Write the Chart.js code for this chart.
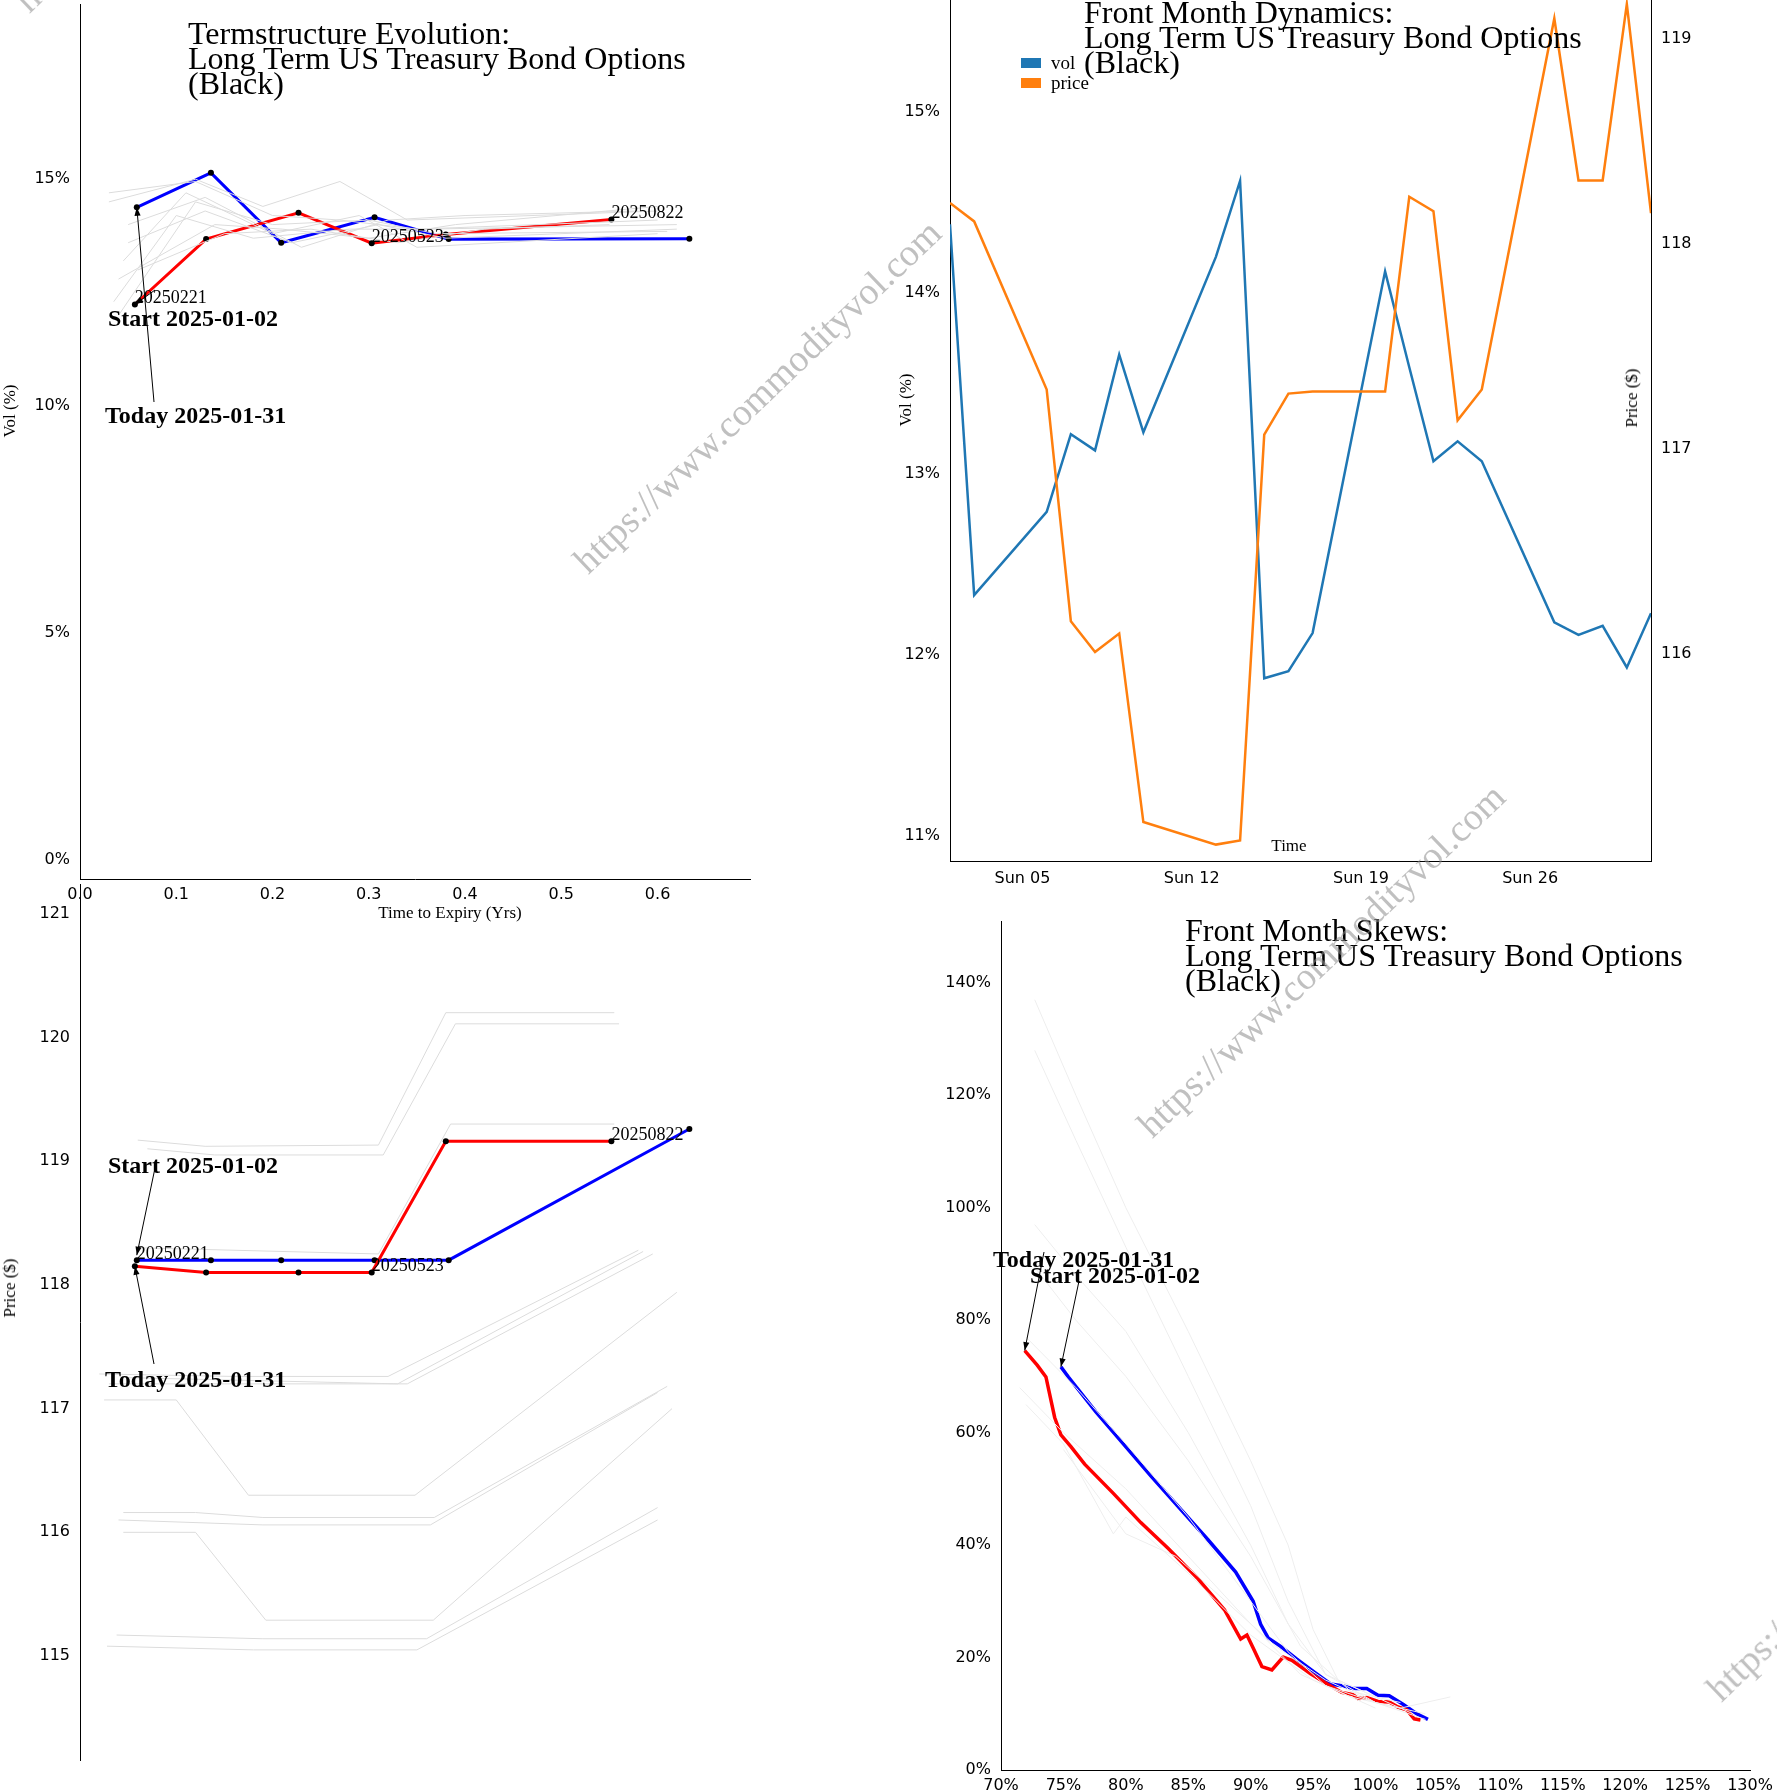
<!DOCTYPE html>
<html>
<head>
<meta charset="utf-8">
<script src="https://cdn.jsdelivr.net/npm/chart.js@4"></script>
<style>
  body { margin: 0; background: #fff; width: 1777px; height: 1792px; overflow: hidden; position: relative; }
  canvas { position: absolute; }
  .t { position: absolute; font-family: 'Liberation Serif', serif; color: #000; white-space: nowrap; }
  .title { font-size: 32px; line-height: 25px; }
  .ann { font-size: 24px; font-weight: bold; }
  .ax { font-size: 17px; }
  .rot { transform: translate(-50%, -50%) rotate(-90deg); }
  .wm { position: absolute; font-family: 'Liberation Serif', serif; font-size: 38px; color: rgba(140,140,140,0.55);
        white-space: nowrap; transform: translate(-50%, -50%) rotate(-43.7deg); }
  .sw { position: absolute; width: 20px; height: 10px; }
</style>
</head>
<body>
<canvas id="c1" style="left:0;top:0"></canvas>
<canvas id="c3" style="left:0;top:880px"></canvas>
<canvas id="c2" style="left:880px;top:0"></canvas>
<canvas id="c4" style="left:900px;top:880px"></canvas>

<div class="t title" style="left:188px;top:21px">Termstructure Evolution:<br>Long Term US Treasury Bond Options<br>(Black)</div>
<div class="t title" style="left:1084px;top:0px">Front Month Dynamics:<br>Long Term US Treasury Bond Options<br>(Black)</div>
<div class="t title" style="left:1185px;top:918px">Front Month Skews:<br>Long Term US Treasury Bond Options<br>(Black)</div>

<div class="sw" style="left:1021px;top:58px;background:#1f77b4"></div>
<div class="t ax" style="left:1051px;top:52px;font-size:19px">vol</div>
<div class="sw" style="left:1021px;top:78px;background:#ff7f0e"></div>
<div class="t ax" style="left:1051px;top:72px;font-size:19px">price</div>

<div class="t ann" style="left:108px;top:305px">Start 2025-01-02</div>
<div class="t ann" style="left:105px;top:402px">Today 2025-01-31</div>
<div class="t ann" style="left:108px;top:1152px">Start 2025-01-02</div>
<div class="t ann" style="left:105px;top:1366px">Today 2025-01-31</div>
<div class="t ann" style="left:993px;top:1246px">Today 2025-01-31</div>
<div class="t ann" style="left:1030px;top:1262px">Start 2025-01-02</div>

<div class="t ax rot" style="left:10px;top:411px">Vol (%)</div>
<div class="t ax" style="left:450px;top:913px;transform:translate(-50%,-50%)">Time to Expiry (Yrs)</div>
<div class="t ax rot" style="left:906px;top:400px">Vol (%)</div>
<div class="t ax rot" style="left:1632px;top:398px">Price ($)</div>
<div class="t ax" style="left:1289px;top:846px;transform:translate(-50%,-50%)">Time</div>
<div class="t ax rot" style="left:10px;top:1288px">Price ($)</div>

<div class="wm" style="left:757px;top:396px">https://www.commodityvol.com</div>
<div class="wm" style="left:1321px;top:960px">https://www.commodityvol.com</div>
<div class="wm" style="left:1890px;top:1524px">https://www.commodityvol.com</div>
<div class="wm" style="left:198px;top:-165px">https://www.commodityvol.com</div>

<script>
// term structure: [time to expiry (yrs), value]
const termTodayVol = [[0.059,14.38],[0.136,15.14],[0.209,13.60],[0.306,14.16],[0.383,13.68],[0.633,13.69]];
const termStartVol = [[0.057,12.24],[0.131,13.68],[0.227,14.26],[0.303,13.59],[0.380,13.78],[0.552,14.11]];
const termTodayPrice = [[0.059,118.20],[0.136,118.20],[0.209,118.20],[0.306,118.20],[0.383,118.20],[0.633,119.26]];
const termStartPrice = [[0.057,118.15],[0.131,118.10],[0.227,118.10],[0.303,118.10],[0.380,119.16],[0.552,119.16]];
const expiryLabels = ['20250221', null, null, '20250523', null, '20250822'];
const termGreyVol = [
  [[0.03,14.7],[0.12,14.95],[0.2,14.2],[0.27,14.1],[0.35,13.9],[0.6,14.1]],
  [[0.03,14.5],[0.12,15.0],[0.19,14.4],[0.27,14.95],[0.34,14.1],[0.6,14.3]],
  [[0.04,12.0],[0.12,14.5],[0.2,14.0],[0.3,14.1],[0.37,13.8],[0.61,13.85]],
  [[0.035,12.3],[0.1,14.2],[0.18,13.7],[0.28,13.9],[0.36,13.9],[0.62,14.0]],
  [[0.045,13.2],[0.11,14.7],[0.2,13.8],[0.29,14.2],[0.35,13.5],[0.6,13.8]],
  [[0.05,13.6],[0.13,14.3],[0.22,13.6],[0.31,14.0],[0.38,13.7],[0.62,13.9]],
  [[0.04,12.8],[0.14,14.0],[0.21,13.9],[0.3,13.7],[0.39,14.0],[0.6,14.4]],
  [[0.05,14.0],[0.13,14.6],[0.23,13.5],[0.32,14.1],[0.4,14.2],[0.58,14.3]],
  [[0.06,13.0],[0.15,13.8],[0.24,13.9],[0.33,13.6],[0.42,13.9],[0.55,14.0]]
];
const termGreyPrice = [
  [[0.06,119.17],[0.13,119.12],[0.31,119.13],[0.38,120.20],[0.555,120.20]],
  [[0.07,119.10],[0.14,119.05],[0.315,119.05],[0.39,120.11],[0.56,120.11]],
  [[0.06,118.30],[0.31,118.25],[0.385,119.30],[0.555,119.30]],
  [[0.02,117.28],[0.16,117.26],[0.32,117.26],[0.58,118.28]],
  [[0.05,117.25],[0.33,117.20],[0.585,118.27]],
  [[0.03,117.20],[0.15,117.20],[0.34,117.20],[0.595,118.25]],
  [[0.025,117.07],[0.10,117.07],[0.175,116.30],[0.348,116.30],[0.62,117.94]],
  [[0.045,116.16],[0.12,116.16],[0.19,116.12],[0.368,116.12],[0.61,117.18]],
  [[0.04,116.10],[0.19,116.06],[0.364,116.06],[0.60,117.13]],
  [[0.045,116.00],[0.12,116.00],[0.193,115.29],[0.367,115.29],[0.615,117.00]],
  [[0.038,115.17],[0.19,115.14],[0.36,115.14],[0.60,116.20]],
  [[0.028,115.08],[0.18,115.05],[0.35,115.05],[0.60,116.10]]
];

// front month dynamics: day of January 2025
const days = [2,3,6,7,8,9,10,13,14,15,16,17,20,21,22,23,24,27,28,29,30,31];
const volSeries = [14.38,12.33,12.79,13.22,13.13,13.66,13.23,14.20,14.62,11.87,11.91,12.12,14.12,13.59,13.07,13.18,13.07,12.18,12.11,12.16,11.93,12.23];
const priceSeries = [118.20,118.11,117.29,116.16,116.01,116.10,115.18,115.07,115.09,117.07,117.27,117.28,117.28,118.23,118.16,117.14,117.29,119.10,118.31,118.31,119.17,118.15];
const dayTicks = [5,12,19,26];
const dayTickLabels = ['Sun 05','Sun 12','Sun 19','Sun 26'];

// skews: [moneyness %, vol %]
const skewToday = [[71.9,74.6],[72.9,72.0],[73.6,69.9],[74.3,62.7],[74.8,59.6],[75.6,57.5],[76.7,54.4],[79.0,49.2],[81.2,44.0],[83.4,39.4],[85.7,34.2],[87.9,28.5],[89.2,23.3],[89.7,24.0],[90.2,21.7],[90.9,18.4],[91.7,17.8],[92.6,20.1],[93.3,19.5],[94.8,17.1],[96.2,15.2],[97.3,13.8],[98.2,13.4],[98.6,12.7],[99.3,12.9],[100.2,12.2],[101.1,12.1],[101.8,11.2],[102.5,10.7],[103.1,9.1],[103.6,8.9]];
const skewStart = [[74.8,71.7],[75.4,69.9],[77.6,63.7],[79.8,58.0],[82.0,52.3],[84.3,46.6],[86.6,40.9],[88.8,35.2],[90.2,30.0],[90.8,25.9],[91.4,23.5],[92.4,22.0],[93.7,19.7],[95.1,17.4],[96.4,15.3],[97.3,15.0],[98.2,14.5],[99.3,14.5],[100.2,13.3],[101.1,13.2],[102.2,11.7],[103.3,10.0],[104.2,9.0]];
const skewGrey = [
  [[72.7,137],[76,120],[80,100],[85,78],[90,55],[93,40],[95,25],[97,16],[100,13]],
  [[72.7,128],[76,112],[80,93],[85,70],[90,47],[93,30],[96,17],[100,12]],
  [[72.7,97],[76,88],[80,78],[85,60],[90,40],[93,26],[96,17],[100,13],[103,10]],
  [[72,77],[76,68],[80,58],[85,45],[90,30],[93,21],[96,15],[100,12],[104,9]],
  [[71.5,68],[75,60],[80,50],[85,38],[90,26],[94,17],[98,13],[102,11],[106,13]],
  [[72,65],[75,58],[79,42],[80,45],[85,35],[90,24],[95,16],[100,11]],
  [[75,57],[78,48],[80,42],[84,38],[88,30],[92,22],[96,16],[100,12],[104,10]],
  [[72.5,90],[76,80],[80,70],[85,55],[90,38],[94,22],[98,14],[102,12]]
];

const xy = arr => arr.map(([x, y]) => ({ x, y }));
const tickFont = { family: 'DejaVu Sans', size: 16 };

function setup(id, w, h) {
  const c = document.getElementById(id);
  c.width = w; c.height = h;
  c.style.width = w + 'px'; c.style.height = h + 'px';
  return c.getContext('2d');
}
// fix axis thickness and drop the label overhang padding
function fixed(size, key) {
  return scale => {
    scale[key] = size;
    scale.paddingTop = 0; scale.paddingBottom = 0;
    scale.paddingLeft = 0; scale.paddingRight = 0;
  };
}
function ticksAt(values) {
  return scale => { scale.ticks = values.map(v => ({ value: v })); };
}
function axis(extra) {
  return Object.assign({
    grid: { display: false, drawTicks: true, tickLength: 6, color: '#000' },
    border: { color: '#000', width: 1 },
    ticks: { color: '#000', font: tickFont, padding: 2 }
  }, extra);
}
function greySets(list, color) {
  return list.map(l => ({ data: xy(l), borderColor: color, borderWidth: 1, pointRadius: 0, tension: 0 }));
}
function mainSet(data, color) {
  return { data: xy(data), borderColor: color, borderWidth: 3, pointRadius: 3, pointBackgroundColor: '#000', pointBorderWidth: 0, tension: 0 };
}

// arrows + expiry labels
const overlay = {
  id: 'overlay',
  afterDatasetsDraw(chart, args, opts) {
    const ctx = chart.ctx;
    const xs = chart.scales.x, ys = chart.scales.y;
    ctx.save();
    (opts.arrows || []).forEach(a => {
      const tx = xs.getPixelForValue(a.to[0]), ty = ys.getPixelForValue(a.to[1]);
      const [fx, fy] = a.from;
      ctx.strokeStyle = '#000'; ctx.fillStyle = '#000'; ctx.lineWidth = 1;
      ctx.beginPath(); ctx.moveTo(fx, fy); ctx.lineTo(tx, ty); ctx.stroke();
      const ang = Math.atan2(ty - fy, tx - fx);
      ctx.beginPath();
      ctx.moveTo(tx, ty);
      ctx.lineTo(tx - 9 * Math.cos(ang - 0.35), ty - 9 * Math.sin(ang - 0.35));
      ctx.lineTo(tx - 9 * Math.cos(ang + 0.35), ty - 9 * Math.sin(ang + 0.35));
      ctx.closePath(); ctx.fill();
    });
    if (opts.labels) {
      ctx.font = "18px 'Liberation Serif'";
      ctx.fillStyle = '#000'; ctx.textBaseline = 'middle';
      opts.labels.points.forEach((p, i) => {
        const t = opts.labels.text[i];
        if (!t) return;
        ctx.fillText(t, xs.getPixelForValue(p[0]), ys.getPixelForValue(p[1]) - 6);
      });
    }
    ctx.restore();
  }
};

const baseOpts = {
  responsive: false, animation: false, devicePixelRatio: 1,
  plugins: { legend: { display: false }, tooltip: { enabled: false } }
};

// panel 1: term structure vol
new Chart(setup('c1', 760, 910), {
  type: 'line',
  data: { datasets: [...greySets(termGreyVol, '#dcdcdc'), mainSet(termStartVol, '#ff0000'), mainSet(termTodayVol, '#0000ff')] },
  options: Object.assign({}, baseOpts, {
    layout: { padding: { top: 0, right: 10, left: 0, bottom: 0 } },
    plugins: Object.assign({}, baseOpts.plugins, {
      overlay: {
        arrows: [{ from: [155, 290], to: termStartVol[0] }, { from: [154, 402], to: termTodayVol[0] }],
        labels: { points: termStartVol, text: expiryLabels }
      }
    }),
    scales: {
      x: axis({ type: 'linear', min: 0, max: 0.696, afterFit: fixed(31, 'height'), afterBuildTicks: ticksAt([0,0.1,0.2,0.3,0.4,0.5,0.6]),
        ticks: { color: '#000', font: tickFont, padding: 0, callback: v => v.toFixed(1) } }),
      y: axis({ min: -0.417, max: 18.86, afterFit: fixed(80, 'width'), afterBuildTicks: ticksAt([0,5,10,15]),
        ticks: { color: '#000', font: tickFont, padding: 4, callback: v => v + '%' } })
    }
  }),
  plugins: [overlay]
});

// panel 3: term structure price
new Chart(setup('c3', 760, 912), {
  type: 'line',
  data: { datasets: [...greySets(termGreyPrice, '#dcdcdc'), mainSet(termStartPrice, '#ff0000'), mainSet(termTodayPrice, '#0000ff')] },
  options: Object.assign({}, baseOpts, {
    layout: { padding: { top: 0, right: 10, left: 0, bottom: 32 } },
    plugins: Object.assign({}, baseOpts.plugins, {
      overlay: {
        arrows: [{ from: [155, 288], to: [termTodayPrice[0][0], termTodayPrice[0][1] + 0.04] }, { from: [154, 484], to: termStartPrice[0] }],
        labels: { points: termStartPrice.map((p, i) => i === 0 ? termTodayPrice[0] : p), text: expiryLabels }
      }
    }),
    scales: {
      x: { type: 'linear', min: 0, max: 0.696, display: false },
      y: axis({ min: 114.16, max: 121.24, afterFit: fixed(80, 'width'), afterBuildTicks: ticksAt([115,116,117,118,119,120,121]),
        ticks: { color: '#000', font: tickFont, padding: 4 } })
    }
  }),
  plugins: [overlay]
});

// panel 2: front month dynamics
new Chart(setup('c2', 897, 900), {
  type: 'line',
  data: {
    labels: days,
    datasets: [
      { data: days.map((d, i) => ({ x: d, y: priceSeries[i] })), yAxisID: 'y2', borderColor: '#ff7f0e', borderWidth: 2.5, pointRadius: 0, tension: 0 },
      { data: days.map((d, i) => ({ x: d, y: volSeries[i] })), yAxisID: 'y', borderColor: '#1f77b4', borderWidth: 2.5, pointRadius: 0, tension: 0 }
    ]
  },
  options: Object.assign({}, baseOpts, {
    layout: { padding: { top: 0, right: 0, left: 0, bottom: 0 } },
    scales: {
      x: axis({ type: 'linear', min: 2, max: 31, afterFit: fixed(39, 'height'), afterBuildTicks: ticksAt([2, ...dayTicks, 31]),
        ticks: { color: '#000', font: tickFont, padding: 2, callback: v => { const i = dayTicks.indexOf(v); return i < 0 ? '' : dayTickLabels[i]; } } }),
      y: axis({ position: 'left', min: 10.86, max: 15.62, afterFit: fixed(70, 'width'), afterBuildTicks: ticksAt([11,12,13,14,15]),
        ticks: { color: '#000', font: tickFont, padding: 4, callback: v => v + '%' } }),
      y2: axis({ position: 'right', min: 114.99, max: 119.19, afterFit: fixed(126, 'width'), afterBuildTicks: ticksAt([116,117,118,119]),
        ticks: { color: '#000', font: tickFont, padding: 4 } })
    }
  })
});

// panel 4: skews
new Chart(setup('c4', 877, 912), {
  type: 'line',
  data: { datasets: [...greySets(skewGrey, '#eeeeee'),
    { data: xy(skewToday), borderColor: '#ff0000', borderWidth: 3.5, pointRadius: 0, tension: 0 },
    { data: xy(skewStart), borderColor: '#0000ff', borderWidth: 3.5, pointRadius: 0, tension: 0 }] },
  options: Object.assign({}, baseOpts, {
    layout: { padding: { top: 41, right: 27, left: 0, bottom: 0 } },
    plugins: Object.assign({}, baseOpts.plugins, {
      overlay: { arrows: [{ from: [144, 372], to: skewToday[0] }, { from: [179, 401], to: skewStart[0] }] }
    }),
    scales: {
      x: axis({ type: 'linear', min: 70, max: 130, afterFit: fixed(22, 'height'), afterBuildTicks: ticksAt([70,75,80,85,90,95,100,105,110,115,120,125,130]),
        ticks: { color: '#000', font: tickFont, padding: 0, maxRotation: 0, autoSkip: false, callback: v => v + '%' } }),
      y: axis({ min: 0, max: 151, afterFit: fixed(101, 'width'), afterBuildTicks: ticksAt([0,20,40,60,80,100,120,140]),
        ticks: { color: '#000', font: tickFont, padding: 4, callback: v => v + '%' } })
    }
  }),
  plugins: [overlay]
});
</script>
</body>
</html>
